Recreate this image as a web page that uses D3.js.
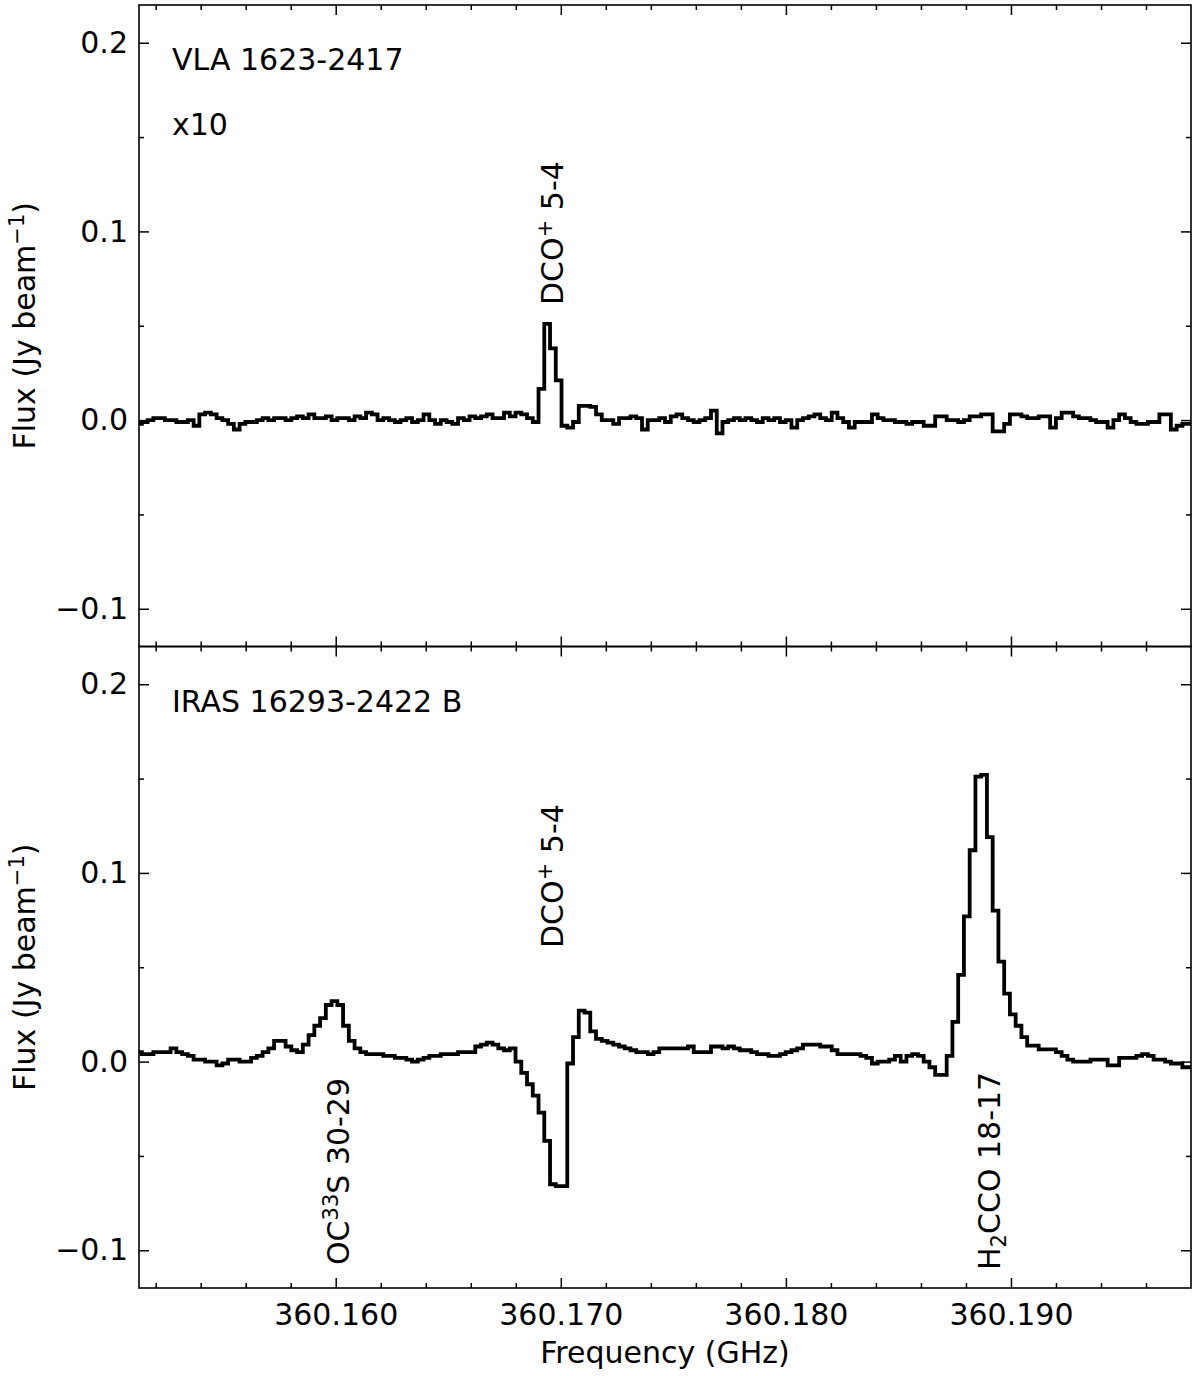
<!DOCTYPE html>
<html><head><meta charset="utf-8">
<script src="https://cdn.jsdelivr.net/npm/d3@7"></script>
<style>
body{margin:0;background:#fff}
svg{display:block}
text{font-family:"DejaVu Sans",sans-serif;fill:#000}
</style>
</head><body>
<svg id="chart" width="1200" height="1376"></svg>
<script>
// ---- channel grid (GHz) ----
const FREQ_START = 360.15126;
const CHANNEL_WIDTH = 0.0002554;
const N_CHANNELS = 184;

// ---- VLA 1623-2417 (x10), Jy/beam ----
const TOP_FLUX = [
 -0.002,-0.001,0.000,0.001,0.001,0.000,0.000,-0.001,-0.001,0.000,
 -0.003,0.003,0.004,0.003,0.001,0.000,-0.002,-0.005,-0.002,-0.001,
 -0.001,0.000,0.001,0.000,0.001,0.001,0.000,0.001,0.002,0.001,
 0.003,0.001,0.001,0.002,0.000,0.001,0.001,0.000,0.002,0.001,
 0.004,0.003,0.000,0.001,0.000,-0.001,0.000,0.001,-0.001,0.000,
 0.003,0.000,-0.002,0.000,-0.001,-0.002,0.001,0.000,0.002,0.001,
 0.002,0.003,0.001,0.001,0.004,0.002,0.004,0.003,0.001,-0.001,
 0.0165,0.051,0.038,0.021,-0.003,-0.004,-0.001,0.0075,0.0075,0.007,
 0.003,0.000,0.000,-0.002,0.001,0.001,0.002,0.001,-0.005,0.000,
 0.000,0.001,-0.001,0.002,0.003,0.001,0.000,-0.001,0.000,0.001,
 0.005,-0.007,-0.001,0.000,0.001,0.000,0.001,0.000,-0.001,0.001,
 0.000,0.001,-0.001,0.000,-0.004,0.000,0.001,0.002,0.003,0.001,
 0.000,0.004,0.001,-0.001,-0.004,-0.001,-0.001,-0.001,0.003,0.001,
 0.000,0.000,-0.001,-0.001,-0.002,-0.001,-0.001,-0.003,-0.003,0.002,
 0.002,0.000,0.000,-0.001,0.000,0.002,0.002,0.003,0.003,-0.006,
 -0.006,-0.002,0.003,0.003,0.002,0.001,0.001,0.002,0.002,-0.004,
 0.001,0.004,0.004,0.002,0.001,0.001,0.000,-0.001,-0.001,-0.004,
 0.000,0.003,0.001,-0.001,-0.002,-0.002,-0.001,-0.001,0.003,0.003,
 -0.005,-0.003,-0.002,-0.002
];

// ---- IRAS 16293-2422 B, Jy/beam ----
const BOTTOM_FLUX = [
 0.005,0.004,0.004,0.005,0.005,0.005,0.007,0.005,0.004,0.003,
 0.001,0.001,0.000,0.000,-0.002,-0.001,0.001,0.001,0.000,0.000,
 0.002,0.003,0.005,0.007,0.011,0.011,0.008,0.006,0.005,0.009,
 0.014,0.019,0.023,0.030,0.032,0.030,0.019,0.011,0.007,0.005,
 0.004,0.004,0.004,0.003,0.003,0.002,0.002,0.001,0.000,0.001,
 0.002,0.003,0.003,0.004,0.004,0.004,0.005,0.005,0.005,0.008,
 0.009,0.010,0.009,0.007,0.006,0.007,0.000,-0.006,-0.012,-0.018,
 -0.027,-0.042,-0.065,-0.066,-0.066,-0.001,0.013,0.027,0.026,0.016,
 0.012,0.011,0.010,0.009,0.008,0.007,0.006,0.005,0.005,0.004,
 0.005,0.007,0.007,0.007,0.007,0.007,0.008,0.005,0.005,0.005,
 0.008,0.008,0.007,0.008,0.007,0.006,0.006,0.005,0.004,0.004,
 0.003,0.003,0.004,0.005,0.006,0.007,0.009,0.009,0.009,0.008,
 0.008,0.006,0.004,0.004,0.004,0.004,0.003,0.002,-0.001,0.000,
 0.000,0.001,0.003,0.000,0.003,0.004,0.003,0.000,-0.003,-0.007,
 -0.007,0.003,0.021,0.046,0.077,0.112,0.151,0.152,0.119,0.080,
 0.053,0.036,0.025,0.019,0.013,0.0085,0.0085,0.0065,0.0065,0.0065,
 0.005,0.003,0.001,0.000,0.000,0.000,0.001,0.001,0.001,-0.002,
 -0.002,0.002,0.002,0.002,0.003,0.004,0.003,0.001,0.001,0.000,
 -0.001,-0.001,-0.003,-0.003
];

// ---- ticks ----
const X_TICKS = [360.160, 360.170, 360.180, 360.190];
const X_MINOR = [360.152,360.154,360.156,360.158,360.162,360.164,360.166,360.168,360.172,360.174,360.176,360.178,360.182,360.184,360.186,360.188,360.192,360.194,360.196];
const Y_TICKS = [-0.1, 0.0, 0.1, 0.2];
const Y_MINOR = [-0.05, 0.05, 0.15];
const Y_DOMAIN = [-0.12, 0.22];

// ---- labels ----
const PANEL_TITLES = [["VLA 1623-2417", "x10"], ["IRAS 16293-2422 B"]];

const svg = d3.select("#chart");
const L = 139, R = 1191;
const FS = 30;

const x = d3.scaleLinear()
  .domain([FREQ_START, FREQ_START + (N_CHANNELS - 1) * CHANNEL_WIDTH])
  .range([L, R]);

const panels = [
  {top: 5, bottom: 646.5, data: TOP_FLUX, titles: PANEL_TITLES[0]},
  {top: 646.5, bottom: 1288, data: BOTTOM_FLUX, titles: PANEL_TITLES[1]}
];

function styleAxis(g) {
  g.select(".domain").remove();
  g.selectAll(".tick line").attr("stroke", "#000").attr("stroke-width", 1.5);
  g.selectAll("text").attr("font-size", FS).attr("font-family", "DejaVu Sans").attr("fill", "#000");
}

panels.forEach((p, pi) => {
  const y = d3.scaleLinear().domain(Y_DOMAIN).range([p.bottom, p.top]);
  const g = svg.append("g");

  const clipId = "clip" + pi;
  svg.append("clipPath").attr("id", clipId).append("rect")
    .attr("x", L).attr("y", p.top).attr("width", R - L).attr("height", p.bottom - p.top);

  // spectrum
  const line = d3.line()
    .x((d, i) => x(FREQ_START + i * CHANNEL_WIDTH))
    .y(d => y(d))
    .curve(d3.curveStep);
  g.append("path")
    .datum(p.data)
    .attr("clip-path", `url(#${clipId})`)
    .attr("fill", "none")
    .attr("stroke", "#000")
    .attr("stroke-width", 3.8)
    .attr("stroke-linejoin", "miter")
    .attr("d", line);

  // y axes
  g.append("g").attr("transform", `translate(${L},0)`)
    .call(d3.axisLeft(y).tickValues(Y_TICKS).tickSize(-10).tickPadding(11).tickFormat(d3.format(".1f")))
    .call(styleAxis);
  g.append("g").attr("transform", `translate(${L},0)`)
    .call(d3.axisLeft(y).tickValues(Y_MINOR).tickSize(-5).tickFormat(""))
    .call(styleAxis);
  g.append("g").attr("transform", `translate(${R},0)`)
    .call(d3.axisRight(y).tickValues(Y_TICKS).tickSize(-10).tickFormat(""))
    .call(styleAxis);
  g.append("g").attr("transform", `translate(${R},0)`)
    .call(d3.axisRight(y).tickValues(Y_MINOR).tickSize(-5).tickFormat(""))
    .call(styleAxis);

  // x axes
  const bottomAxis = d3.axisBottom(x).tickValues(X_TICKS).tickSize(-10).tickPadding(16)
    .tickFormat(pi === 1 ? d3.format(".3f") : "");
  g.append("g").attr("transform", `translate(0,${p.bottom})`).call(bottomAxis).call(styleAxis);
  g.append("g").attr("transform", `translate(0,${p.bottom})`)
    .call(d3.axisBottom(x).tickValues(X_MINOR).tickSize(-5).tickFormat("")).call(styleAxis);
  g.append("g").attr("transform", `translate(0,${p.top})`)
    .call(d3.axisTop(x).tickValues(X_TICKS).tickSize(-10).tickFormat("")).call(styleAxis);
  g.append("g").attr("transform", `translate(0,${p.top})`)
    .call(d3.axisTop(x).tickValues(X_MINOR).tickSize(-5).tickFormat("")).call(styleAxis);

  // frame
  g.append("rect").attr("x", L).attr("y", p.top).attr("width", R - L).attr("height", p.bottom - p.top)
    .attr("fill", "none").attr("stroke", "#000").attr("stroke-width", 1.6);

  // titles
  const titleBase = [p.top + 65, p.top + 130];
  p.titles.forEach((t, ti) => {
    g.append("text").attr("x", 172).attr("y", titleBase[ti]).attr("font-size", FS).text(t);
  });

  // y label
  const yl = g.append("text")
    .attr("transform", `translate(35,${(p.top + p.bottom) / 2}) rotate(-90)`)
    .attr("text-anchor", "middle").attr("font-size", FS);
  yl.append("tspan").text("Flux (Jy beam");
  yl.append("tspan").attr("dy", -11).attr("font-size", 21).text("\u22121");
  yl.append("tspan").attr("dy", 11).text(")");
});

// rotated line labels
function rotLabel(xp, yp, parts) {
  const t = svg.append("text")
    .attr("transform", `translate(${xp},${yp}) rotate(-90)`)
    .attr("font-size", FS);
  parts.forEach(([s, kind]) => {
    const ts = t.append("tspan").text(s);
    if (kind === "sup") ts.attr("dy", -11).attr("font-size", 21);
    else if (kind === "sub") ts.attr("dy", 6).attr("font-size", 21);
    else if (kind === "afterSup") ts.attr("dy", 11);
    else if (kind === "afterSub") ts.attr("dy", -6);
  });
}
rotLabel(563, 305, [["DCO"], ["+", "sup"], [" 5-4", "afterSup"]]);
rotLabel(563, 948, [["DCO"], ["+", "sup"], [" 5-4", "afterSup"]]);
rotLabel(349, 1265, [["OC"], ["33", "sup"], ["S 30-29", "afterSup"]]);
rotLabel(1000, 1270, [["H"], ["2", "sub"], ["CCO 18-17", "afterSub"]]);

// x label
svg.append("text").attr("x", (L + R) / 2).attr("y", 1363).attr("text-anchor", "middle")
  .attr("font-size", FS).text("Frequency (GHz)");
</script>
</body></html>
